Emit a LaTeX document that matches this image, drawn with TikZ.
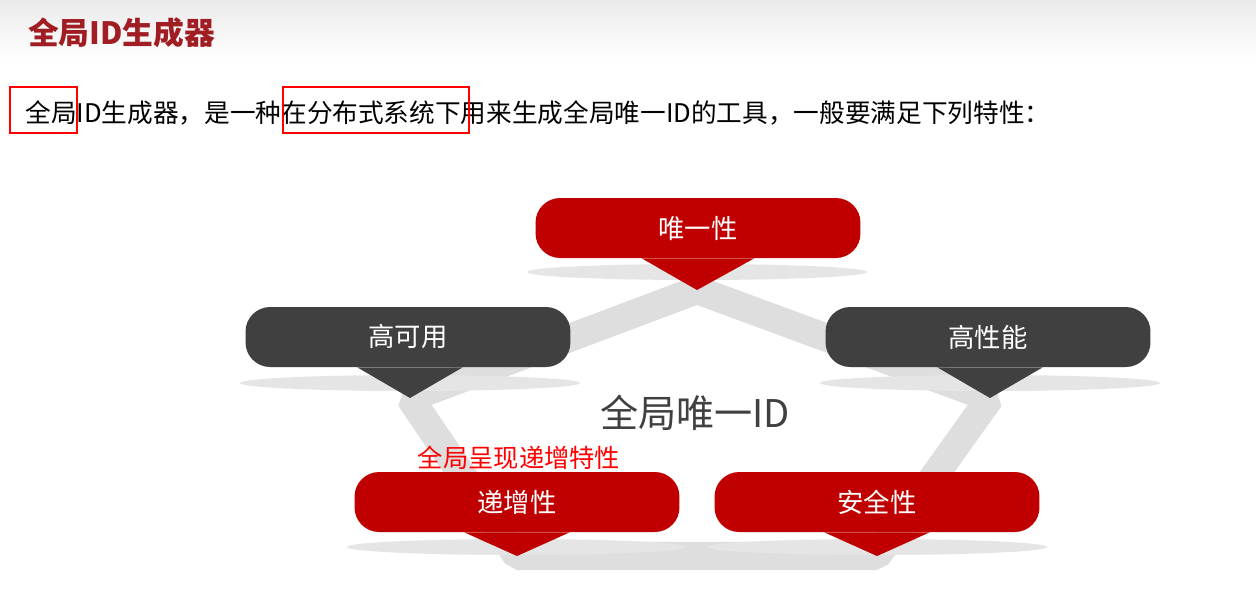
\documentclass[tikz,border=0pt]{standalone}
\usepackage{fontspec}
\setmainfont{Noto Sans CJK SC}
\usetikzlibrary{positioning}
\definecolor{pillred}{RGB}{192,0,0}
\definecolor{pilldark}{RGB}{64,64,64}
\definecolor{titlered}{RGB}{160,30,35}
\begin{document}
\begin{tikzpicture}[x=0.02cm,y=-0.02cm]
	\tikzstyle{pill}=[rounded corners=14pt,minimum width=6.5cm,minimum height=1.2cm,inner sep=0pt,text=white,font=\fontsize{15}{18}\selectfont]
	\tikzstyle{redpill}=[pill,fill=pillred]
	\tikzstyle{darkpill}=[pill,fill=pilldark]
	\tikzstyle{shade}=[fill=black!10,draw=none]
	\tikzstyle{markbox}=[draw=red,line width=0.7pt]
	\useasboundingbox (0,0) rectangle (1256,609);
	\fill[white] (0,0) rectangle (1256,609);
	\shade[top color=black!8,bottom color=white] (0,0) rectangle (1256,60);
	% title and line of text
	\node[anchor=west,text=titlered,font=\fontsize{17.5}{20}\selectfont\bfseries] (title) at (22,33) {全局ID生成器};
	\node[anchor=west,font=\fontsize{14.6}{17}\selectfont,inner sep=0pt] (intro) at (25,113) {全局ID生成器，是一种在分布式系统下用来生成全局唯一ID的工具，一般要满足下列特性：};
	\draw[markbox] (10,87) rectangle (77,133);
	\draw[markbox] (283,87) rectangle (469,133);
	% tips of the pointers
	\coordinate (t-unique) at (697,290);
	\coordinate (t-avail) at (410,398);
	\coordinate (t-perf) at (990,398);
	\coordinate (t-incr) at (517,556);
	\coordinate (t-safe) at (877,556);
	% grey band
	\draw[black!13,line width=16pt,line join=bevel] (t-unique) -- (t-avail) -- (t-incr) -- (t-safe) -- (t-perf) -- cycle;
	% shadows
	\foreach \cx/\cy in {697/272,410/383,990/383,517/547,877/547}
		\fill[shade] (\cx,\cy) ellipse (170 and 8);
	\node[text=black!75,font=\fontsize{21.7}{26}\selectfont] (center) at (695,413) {全局唯一ID};
	% pills
	\node[redpill] (unique) at (698,228) {唯一性};
	\node[darkpill] (avail) at (408,337) {高可用};
	\node[darkpill] (perf) at (988,337) {高性能};
	\node[redpill] (incr) at (517,502) {递增性};
	\node[redpill] (safe) at (877,502) {安全性};
	\fill[pillred] ([xshift=-32]unique.south) -- (t-unique) -- ([xshift=32]unique.south) -- cycle;
	\fill[pilldark] ([xshift=-30]avail.south -| t-avail) -- (t-avail) -- ([xshift=30]avail.south -| t-avail) -- cycle;
	\fill[pilldark] ([xshift=-30]perf.south -| t-perf) -- (t-perf) -- ([xshift=30]perf.south -| t-perf) -- cycle;
	\fill[pillred] ([xshift=-30]incr.south) -- (t-incr) -- ([xshift=30]incr.south) -- cycle;
	\fill[pillred] ([xshift=-30]safe.south) -- (t-safe) -- ([xshift=30]safe.south) -- cycle;
	\node[text=red,font=\fontsize{14.4}{17}\selectfont] (note) at (519,458) {全局呈现递增特性};
\end{tikzpicture}
\end{document}
